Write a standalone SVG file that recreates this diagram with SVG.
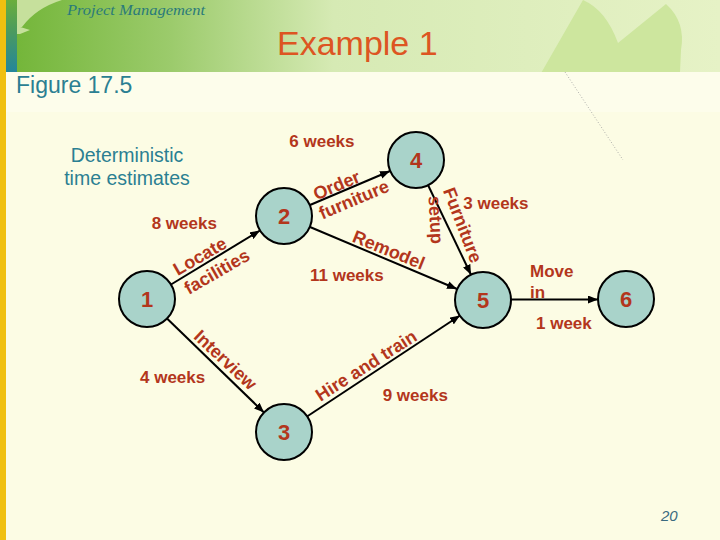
<svg xmlns="http://www.w3.org/2000/svg" width="720" height="540" viewBox="0 0 720 540">
  <defs>
    <linearGradient id="hdr" x1="17" y1="0" x2="720" y2="0" gradientUnits="userSpaceOnUse">
      <stop offset="0" stop-color="#74b63a"/>
      <stop offset="0.22" stop-color="#9ccb6c"/>
      <stop offset="0.45" stop-color="#d6eab4"/>
      <stop offset="1" stop-color="#e6f2c6"/>
    </linearGradient>
    <linearGradient id="strip" x1="0" y1="0" x2="0" y2="72" gradientUnits="userSpaceOnUse">
      <stop offset="0" stop-color="#6aae3c"/>
      <stop offset="0.45" stop-color="#4a9a60"/>
      <stop offset="1" stop-color="#23869c"/>
    </linearGradient>
    <marker id="arr" markerUnits="userSpaceOnUse" markerWidth="10" markerHeight="8" refX="10" refY="4" orient="auto">
      <path d="M0,0 L10,4 L0,8 Z" fill="#000"/>
    </marker>
    <style>
      .node circle { fill: #a9d3ca; stroke: #000; stroke-width: 2; }
      .node text { font-family: "Liberation Sans", Arial, sans-serif; font-weight: bold; font-size: 22px; fill: #b3361c; text-anchor: middle; }
      .lbl { font-family: "Liberation Sans", Arial, sans-serif; font-weight: bold; font-size: 17px; fill: #b3361c; }
      .rl { font-family: "Liberation Sans", Arial, sans-serif; font-weight: bold; font-size: 18px; fill: #b3361c; text-anchor: middle; }
      .edge { stroke: #000; stroke-width: 2; fill: none; marker-end: url(#arr); }
      .teal { font-family: "Liberation Sans", Arial, sans-serif; fill: #2b7f92; }
    </style>
  </defs>

  <!-- background -->
  <rect x="0" y="0" width="720" height="540" fill="#fcfce4"/>
  <rect x="0" y="72" width="720" height="40" fill="#fdfdeb"/>
  <rect x="17" y="0" width="703" height="72" fill="url(#hdr)"/>
  <path d="M17,0 L62,0 Q36,8 22,27 L17,27 Z" fill="#c6e09c"/>
  <path d="M17,26 L30,30 L20,34 L17,34 Z" fill="#c6e09c"/>
  <path d="M541.7,72 L583,0 Q606,10 618,43 L666,4 Q686,22 681,50 L680,72 Z" fill="#cde69e"/>
  <line x1="565" y1="72" x2="623" y2="160" stroke="#9a9a9a" stroke-width="0.8" stroke-dasharray="1,2"/>
  <rect x="0" y="0" width="6" height="540" fill="#f0c010"/>
  <rect x="6" y="0" width="11" height="72" fill="url(#strip)"/>

  <!-- header texts -->
  <text x="67" y="15" font-family="'Liberation Serif', serif" font-style="italic" font-size="14" fill="#2a7a7a" textLength="138" lengthAdjust="spacingAndGlyphs">Project  Management</text>
  <text x="277" y="55" font-family="'Liberation Sans', Arial, sans-serif" font-size="34" fill="#dd5522">Example 1</text>
  <text x="16" y="92.5" class="teal" font-size="23">Figure 17.5</text>
  <text x="127" y="162" class="teal" font-size="19.5" text-anchor="middle">Deterministic</text>
  <text x="127" y="185" class="teal" font-size="19.5" text-anchor="middle">time estimates</text>
  <text x="661" y="520.5" font-family="'Liberation Sans', Arial, sans-serif" font-style="italic" font-size="15" fill="#3a6a80">20</text>

  <!-- connectors -->
  <g id="connectors">
    <line class="edge" x1="171" y1="284.5" x2="260" y2="230.5"/>
    <line class="edge" x1="167" y1="318.5" x2="264" y2="412.5"/>
    <line class="edge" x1="310" y1="205" x2="390" y2="171"/>
    <line class="edge" x1="310" y1="227" x2="457" y2="289"/>
    <line class="edge" x1="428" y1="185" x2="471" y2="274.7"/>
    <line class="edge" x1="307" y1="416.5" x2="460" y2="315.5"/>
    <line class="edge" x1="511" y1="299.5" x2="598" y2="299.5"/>

    <text class="rl" transform="translate(203,261.5) rotate(-30)">Locate</text>
    <text class="rl" transform="translate(220,277) rotate(-30)">facilities</text>
    <text class="rl" transform="translate(339,191) rotate(-23)">Order</text>
    <text class="rl" transform="translate(356.3,205.2) rotate(-23)">furniture</text>
    <text class="rl" transform="translate(386.5,255.6) rotate(22)">Remodel</text>
    <text class="rl" transform="translate(457,227.3) rotate(69)">Furniture</text>
    <text class="rl" transform="translate(429.8,220.3) rotate(87)">setup</text>
    <text class="rl" transform="translate(221.2,364.4) rotate(43)">Interview</text>
    <text class="rl" transform="translate(369.4,370.8) rotate(-32.5)">Hire and train</text>

    <text class="lbl" x="289.3" y="147">6 weeks</text>
    <text class="lbl" x="151.7" y="229">8 weeks</text>
    <text class="lbl" x="140" y="383">4 weeks</text>
    <text class="lbl" x="310" y="281">11 weeks</text>
    <text class="lbl" x="463.3" y="209">3 weeks</text>
    <text class="lbl" x="536" y="329">1 week</text>
    <text class="lbl" x="382.7" y="401">9 weeks</text>
    <text class="lbl" x="530" y="277">Move</text>
    <text class="lbl" x="530" y="297.5">in</text>
  </g>

  <!-- nodes -->
  <g id="node1" class="node"><circle cx="147" cy="299" r="28"/><text x="147" y="307">1</text></g>
  <g id="node2" class="node"><circle cx="284" cy="216" r="28"/><text x="284" y="224">2</text></g>
  <g id="node3" class="node"><circle cx="284" cy="432" r="28"/><text x="284" y="440">3</text></g>
  <g id="node4" class="node"><circle cx="416" cy="160" r="28"/><text x="416" y="168">4</text></g>
  <g id="node5" class="node"><circle cx="483" cy="300" r="28"/><text x="483" y="308">5</text></g>
  <g id="node6" class="node"><circle cx="626" cy="299" r="28"/><text x="626" y="307">6</text></g>
</svg>
